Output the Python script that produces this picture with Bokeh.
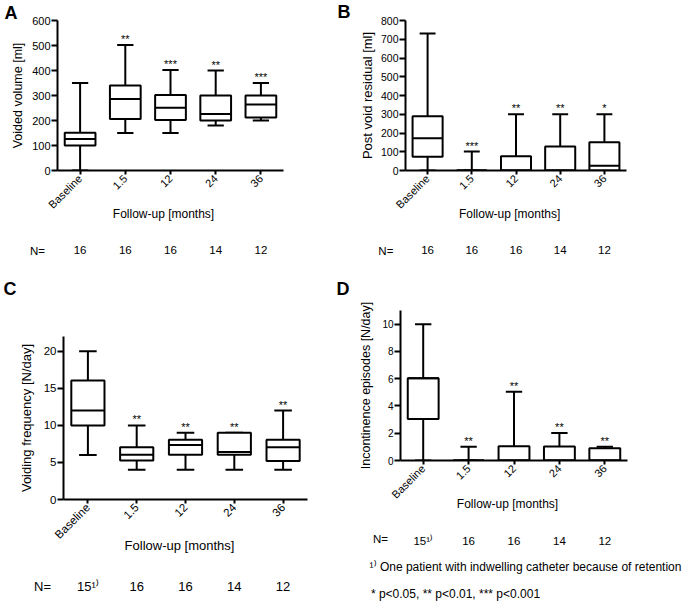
import numpy as np
from bokeh.plotting import figure
from bokeh.models import Range1d, FixedTicker, LinearAxis, ColumnDataSource, Label
from bokeh.layouts import column, row
from bokeh.transform import dodge
from bokeh.embed import file_html
from bokeh.resources import INLINE
from bokeh.core.properties import value

# ---------------- data ----------------
categories = ["Baseline", "1.5", "12", "24", "36"]

a_low = [0, 150, 150, 180, 200]
a_q1 = [100, 206, 202, 200, 212]
a_med = [126, 286, 251, 226, 264]
a_q3 = [151, 340, 302, 300, 300]
a_high = [350, 502, 402, 400, 350]
a_stars = ["", "**", "***", "**", "***"]
a_n = ["16", "16", "16", "14", "12"]
a_ticks = [0, 100, 200, 300, 400, 500, 600]

b_low = [0, 0, 0, 0, 0]
b_q1 = [74, 0, 0, 0, 0]
b_med = [172, 0, 0, 0, 26]
b_q3 = [290, 0, 76, 128, 151]
b_high = [731, 101, 300, 300, 300]
b_stars = ["", "***", "**", "**", "*"]
b_n = ["16", "16", "16", "14", "12"]
b_ticks = [0, 100, 200, 300, 400, 500, 600, 700, 800]

c_low = [6, 4, 4, 4, 4]
c_q1 = [10, 5.25, 6.05, 6.05, 5.2]
c_med = [12, 6.05, 7.35, 6.4, 7.05]
c_q3 = [16.05, 7.05, 8.05, 9, 8.05]
c_high = [20, 10, 9, 9, 12]
c_stars = ["", "**", "**", "**", "**"]
c_n = ["15\u00b9\u207e", "16", "16", "14", "12"]
c_ticks = [0, 5, 10, 15, 20]

d_low = [0, 0, 0, 0, 0]
d_q1 = [3.05, 0, 0, 0, 0]
d_med = [6.04, 0, 0, 0, 0]
d_q3 = [6.04, 0, 1.05, 1.02, 0.9]
d_high = [10, 1, 5.05, 2.02, 1]
d_stars = ["", "**", "**", "**", "**"]
d_n = ["15\u00b9\u207e", "16", "16", "14", "12"]
d_ticks = [0, 2, 4, 6, 8, 10]

x_title = "Follow-up [months]"
n_label = "N="
footnote1 = "\u00b9\u207e One patient with indwelling catheter because of retention"
footnote2 = "* p<0.05, ** p<0.01, *** p<0.001"

# ---------------- layout ----------------
FONT = "Liberation Sans"
TOTAL_W, TOTAL_H = 684, 603
SPLIT_X = 356
SPLIT_Y_LEFT = 310
SPLIT_Y_RIGHT = 280
BOX_W = 0.68
CAP_W = 0.36
X0, X1 = -0.5, 4.5


def fh(size):
    return 1.34 * size


def rot_extent(size):
    return 3.55 * size


def style_text_axis(ax, size, bold=False):
    ax.axis_line_color = None
    ax.major_tick_line_color = None
    ax.minor_tick_line_color = None
    ax.major_tick_out = 0
    ax.major_tick_in = 0
    ax.major_label_text_font = FONT
    ax.major_label_text_font_size = f"{size}px"
    ax.major_label_text_color = "black"
    ax.major_label_text_font_style = "bold" if bold else "normal"


class Panel:
    pass


def make_panel(ox, oy, w, h, frame, ymax, ticks, ylabel, low, q1, med, q3, high,
               stars, n_labels, title_x, tick_fs, xtick_fs, ylab_fs, ylab_stand, rows):
    fl, fr, ft, fb = frame
    bl, br, bt, bb = fl - ox, (ox + w) - fr, ft - oy, (oy + h) - fb
    p = figure(width=w, height=h, output_backend="svg", toolbar_location=None,
               x_range=Range1d(X0, X1), y_range=Range1d(0, ymax),
               min_border_left=bl, min_border_right=br,
               min_border_top=bt, min_border_bottom=bb)
    if "frame_align" in p.properties():
        p.frame_align = False
    p.outline_line_color = None
    p.xgrid.visible = False
    p.ygrid.visible = False
    p.background_fill_color = "white"
    p.border_fill_color = "white"

    P = Panel()
    P.p = p

    def dx(rx):
        return round(X0 + (rx - fl) / (fr - fl) * (X1 - X0), 4)

    P.dx = dx
    P.dy = lambda ry: round((fb - ry) / (fb - ft) * ymax, 4)

    for ax in (p.xaxis[0], p.yaxis[0]):
        ax.axis_line_width = 2
        ax.axis_line_color = "black"
        ax.major_tick_line_width = 2
        ax.major_tick_line_color = "black"
        ax.minor_tick_line_color = None
        ax.major_tick_in = 0
        ax.major_label_text_font = FONT
        ax.major_label_text_color = "black"
        ax.axis_label_text_font = FONT
        ax.axis_label_text_font_style = "normal"
        ax.axis_label_text_color = "black"

    xa = p.xaxis[0]
    xa.ticker = FixedTicker(ticks=list(range(len(categories))))
    xa.major_label_overrides = {i: c for i, c in enumerate(categories)}
    xa.major_label_orientation = np.pi / 4
    xa.major_label_text_font_size = f"{xtick_fs}px"
    xa.major_tick_out = 4
    xa.major_label_standoff = 2

    ya = p.yaxis[0]
    ya.ticker = FixedTicker(ticks=ticks)
    ya.major_label_text_font_size = f"{tick_fs}px"
    ya.major_tick_out = 6
    ya.major_label_standoff = 1
    ya.axis_label = ylabel
    ya.axis_label_text_font_size = f"{ylab_fs}px"
    ya.axis_label_standoff = ylab_stand

    # stacked text rows below the category axis
    cur = fb + 4 + 2 + rot_extent(xtick_fs)
    for kind, yc, size in rows:
        hh = fh(size)
        standoff = int(round(yc - hh / 2 - cur))
        cur = cur + standoff + hh
        if kind == "title":
            t = [dx(title_x)]
            labs = [x_title]
        elif kind == "n":
            t = list(range(len(categories)))
            labs = list(n_labels)
        elif kind == "fn1":
            t = [dx(525)]
            labs = [footnote1]
        else:
            t = [dx(455)]
            labs = [footnote2]
        ax = LinearAxis(ticker=FixedTicker(ticks=t),
                        major_label_overrides={tt: ll for tt, ll in zip(t, labs)})
        style_text_axis(ax, size)
        ax.major_label_standoff = standoff
        p.add_layout(ax, "below")

    src = ColumnDataSource(dict(x=list(range(len(categories))), low=low, q1=q1,
                                med=med, q3=q3, high=high, stars=stars))
    lk = dict(line_color="black", line_width=2, source=src)
    p.segment(x0="x", y0="low", x1="x", y1="q1", **lk)
    p.segment(x0="x", y0="q3", x1="x", y1="high", **lk)
    p.segment(x0=dodge("x", -CAP_W / 2), y0="low", x1=dodge("x", CAP_W / 2), y1="low", **lk)
    p.segment(x0=dodge("x", -CAP_W / 2), y0="high", x1=dodge("x", CAP_W / 2), y1="high", **lk)
    p.vbar(x="x", width=BOX_W, bottom="q1", top="q3", fill_color="white", **lk)
    p.segment(x0=dodge("x", -BOX_W / 2), y0="med", x1=dodge("x", BOX_W / 2), y1="med", **lk)
    p.text(x="x", y="high", text="stars", source=src, text_align="center",
           text_baseline="alphabetic", y_offset=-6, text_font=value(FONT),
           text_font_size="11px", text_color="black")
    return P


def side_label(P, side, rx, ry, text, size, bold=False, align="center", baseline="middle"):
    lab = Label(x=P.dx(rx), y=P.dy(ry), x_units="data", y_units="data", text=text,
                text_font=FONT, text_font_size=f"{size}px",
                text_font_style="bold" if bold else "normal",
                text_align=align, text_baseline=baseline, text_color="black")
    P.p.add_layout(lab, side)


WL, WR = SPLIT_X, TOTAL_W - SPLIT_X
HA, HC = SPLIT_Y_LEFT, TOTAL_H - SPLIT_Y_LEFT
HB, HD = SPLIT_Y_RIGHT, TOTAL_H - SPLIT_Y_RIGHT

PA = make_panel(0, 0, WL, HA, (57, 283, 20, 170), 600, a_ticks, "Voided volume [ml]",
                a_low, a_q1, a_med, a_q3, a_high, a_stars, a_n, 163,
                11, 11, 12.5, 4, [("title", 212, 12), ("n", 250, 11.5)])
PB = make_panel(WL, 0, WR, HB, (401, 626, 20, 170), 800, b_ticks, "Post void residual [ml]",
                b_low, b_q1, b_med, b_q3, b_high, b_stars, b_n, 507,
                10.5, 11, 13, 3, [("title", 212, 12), ("n", 250, 11.5)])
PC = make_panel(0, HA, WL, HC, (63, 307, 336, 499), 22, c_ticks, "Voiding frequency [N/day]",
                c_low, c_q1, c_med, c_q3, c_high, c_stars, c_n, 179,
                11.5, 11.5, 13, 7, [("title", 544, 13), ("n", 584, 13)])
PD = make_panel(WL, HB, WR, HD, (400, 627, 310, 461), 11, d_ticks,
                "Incontinence episodes [N/day]",
                d_low, d_q1, d_med, d_q3, d_high, d_stars, d_n, 507,
                10, 11, 12.5, 6,
                [("title", 503, 12), ("n", 540, 11.5), ("fn1", 566, 12), ("fn2", 592, 12)])

# panel letters (held by figure A, whose canvas covers them)
side_label(PA, "right", 4, 12, "A", 18, bold=True, align="left")
side_label(PA, "right", 337, 11, "B", 18, bold=True, align="left")
side_label(PA, "below", 3, 288, "C", 18, bold=True, align="left")
side_label(PA, "right", 336, 288, "D", 18, bold=True, align="left")

# "N=" row headers
side_label(PA, "right", 37, 250, n_label, 11.5)
side_label(PB, "right", 381, 250, n_label, 11.5)
side_label(PC, "right", 42, 586, n_label, 13)
side_label(PD, "right", 380, 540, n_label, 11.5)

layout = row(column(PA.p, PC.p), column(PB.p, PD.p))
open("out.html", "w").write(file_html(layout, INLINE))
